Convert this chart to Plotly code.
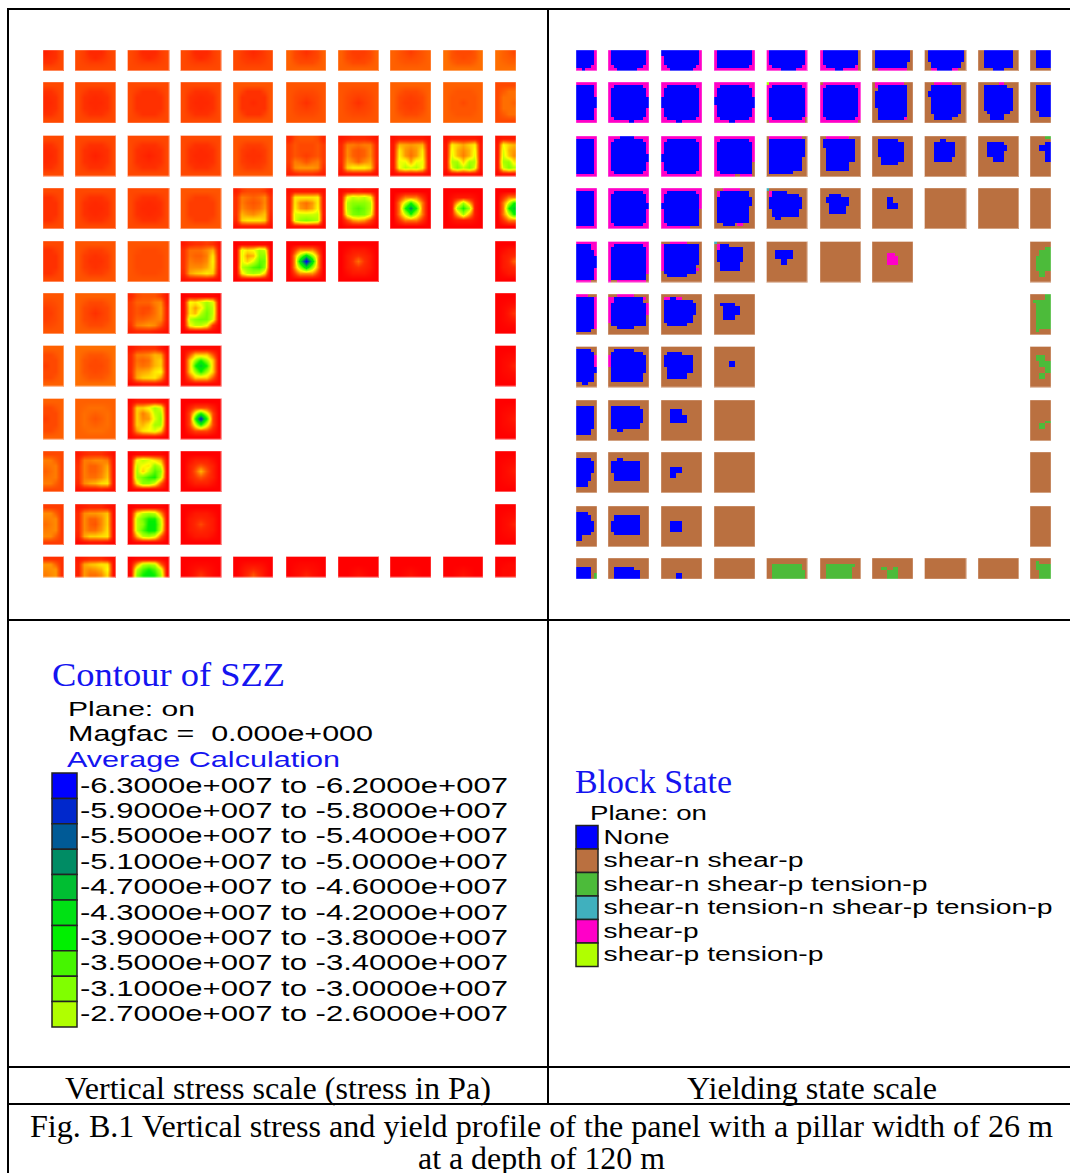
import json
import plotly.graph_objects as go

# ---------- DATA ----------
# Vertical stress magnitude (MPa compression), per pillar: (rim, ring 1, ring 2, core)
STRESS_RINGS = [
 [(8,6,5,4),(8,7,5,5),(8,7,5,5),(8,7,5,5),(8,7,6,5),(10,8,7,6),(10,8,7,7),(10,9,8,7),(11,9,8,8),(11,10,9,8)],
 [(8,6,5,5),(8,6,5,5),(8,6,6,6),(8,6,5,5),(9,6,6,5),(9,8,7,6),(9,8,7,6),(10,8,7,7),(10,9,9,8),(8,11,11,10)],
 [(8,6,5,5),(8,6,5,4),(8,6,5,4),(8,6,5,5),(9,7,6,6),'m','m','m','m','m'],
 [(8,6,6,6),(8,6,5,5),(8,6,5,5),(9,7,7,7),'m','m','m',(0,12,38,52),(0,3,28,38),(0,12,38,46)],
 [(8,6,6,6),(9,7,6,6),(9,8,8,8),'m','m',(0,14,44,63),(0,3,6,11),None,None,(0,3,5,10)],
 [(9,8,7,7),(10,8,7,6),'m','m',None,None,None,None,None,(0,1,3,6)],
 [(10,8,8,7),(11,9,8,8),'m',(1,18,38,46),None,None,None,None,None,(0,1,2,4)],
 [(10,8,8,7),(10,11,10,9),'m',(0,8,38,60),None,None,None,None,None,(0,1,2,3)],
 [(8,12,11,10),'m','m',(0,4,9,16),None,None,None,None,None,(0,1,2,3)],
 [(7,13,12,11),'m','m',(0,3,5,8),None,None,None,None,None,(0,1,2,4)],
 [(6,14,13,12),'m','m',(0,1,3,6),(0,2,5,9),(0,1,2,4),(0,0,1,2),(0,0,1,2),(0,0,1,2),(0,1,1,2)],
]
# Pillars with an uneven stress pattern, as read cell by cell (row, column)
STRESS_MATRICES = {
 (2,5): [[5,8,9,9,9,8,5],[7,9,8,8,8,9,7],[7,9,8,8,8,9,7],[7,9,8,7,8,9,7],[7,12,11,9,11,12,7],[6,13,14,14,14,13,6],[4,5,6,6,6,5,4]],
 (2,6): [[3,4,5,5,5,4,3],[5,12,12,11,12,12,5],[5,13,10,9,10,13,5],[5,13,10,9,10,13,5],[5,15,13,10,13,15,5],[4,18,21,21,21,18,4],[2,3,3,3,3,3,2]],
 (2,7): [[2,3,3,3,3,3,2],[3,16,15,14,15,16,3],[3,20,14,12,14,20,3],[3,21,14,11,14,21,3],[3,23,23,15,23,23,3],[3,22,27,25,27,22,3],[1,2,2,2,2,2,1]],
 (2,8): [[2,3,3,3,3,3,2],[3,21,18,15,18,21,3],[3,23,16,13,16,23,3],[3,24,16,12,16,24,3],[3,27,28,18,28,27,3],[3,24,31,26,31,24,3],[1,2,2,2,2,2,1]],
 (2,9): [[2,3,3,3],[3,22,18,16],[3,24,16,14],[3,25,17,13],[3,28,29,20],[3,25,31,27],[1,2,2,2]],
 (3,4): [[4,7,8,8,8,7,4],[6,12,11,10,11,13,6],[6,12,10,9,10,13,6],[6,13,11,10,11,14,6],[6,16,14,13,15,17,5],[5,18,20,20,20,18,4],[2,3,3,3,3,3,2]],
 (3,5): [[2,3,3,3,3,3,2],[3,20,20,20,20,21,3],[3,20,13,11,14,21,3],[3,21,14,12,15,22,3],[3,24,25,25,25,26,3],[2,24,29,31,29,27,2],[1,2,2,2,2,2,1]],
 (3,6): [[1,2,2,3,2,2,1],[2,22,26,24,26,22,2],[2,27,30,30,30,27,2],[2,27,32,34,32,27,2],[2,24,31,32,31,24,2],[1,8,14,16,14,8,1],[0,1,1,1,1,1,0]],
 (4,3): [[3,5,6,6,7,6,2],[6,11,11,11,13,16,3],[6,11,10,10,12,20,3],[6,12,11,11,13,21,3],[6,13,13,13,15,20,3],[5,15,17,18,20,18,2],[2,3,3,3,3,2,1]],
 (4,4): [[0,1,1,1,1,1,0],[1,24,20,22,28,26,1],[1,24,14,16,30,30,1],[1,24,18,24,33,32,1],[1,26,30,34,36,30,1],[1,20,26,28,26,18,0],[0,1,1,1,1,1,0]],
 (5,2): [[5,8,9,9,9,7,3],[7,10,10,10,12,13,3],[7,9,8,8,11,14,4],[7,9,8,9,11,14,4],[7,10,10,11,12,13,4],[6,12,13,14,13,9,3],[4,5,5,5,4,3,2]],
 (5,3): [[0,1,1,1,1,1,0],[1,22,20,24,28,24,1],[1,20,14,20,30,26,1],[1,20,16,26,32,26,1],[1,26,30,32,32,24,1],[1,22,26,26,22,6,0],[0,1,1,1,1,1,0]],
 (6,2): [[3,5,6,6,6,3,1],[5,12,12,13,16,15,2],[5,11,10,11,16,18,2],[5,12,11,12,16,18,2],[5,14,15,16,20,22,2],[4,15,18,19,20,14,2],[1,2,3,3,3,2,1]],
 (7,2): [[1,3,3,3,3,2,1],[2,18,18,22,28,24,1],[2,18,12,16,26,28,1],[2,18,13,14,24,30,1],[2,18,16,20,28,28,1],[2,14,20,22,24,18,1],[1,2,2,2,2,1,0]],
 (8,1): [[3,5,6,6,6,4,2],[5,12,12,13,13,12,3],[6,12,10,10,12,15,3],[6,12,10,10,12,16,3],[6,12,11,11,13,17,3],[5,13,15,16,19,20,3],[2,3,3,3,4,3,2]],
 (8,2): [[0,1,1,1,1,1,0],[1,22,26,24,20,16,1],[1,26,22,20,30,24,1],[1,28,18,26,34,30,1],[1,28,32,36,38,26,1],[1,20,30,30,24,10,0],[0,1,1,1,1,1,0]],
 (9,1): [[3,4,5,5,5,3,2],[5,13,14,14,15,17,2],[5,13,10,10,13,18,2],[5,13,10,9,13,18,2],[5,13,11,11,14,19,2],[4,15,18,18,19,20,2],[1,2,3,3,3,2,1]],
 (9,2): [[0,1,1,1,1,1,0],[1,20,26,28,26,14,1],[1,26,32,38,38,24,1],[1,26,30,40,40,26,1],[1,26,34,40,40,24,1],[1,16,26,28,24,10,0],[0,1,1,1,1,1,0]],
 (10,1): [[3,4,5,5,5,3,2],[4,15,17,18,20,20,2],[4,14,13,14,16,22,2],[4,14,11,11,13,19,2]],
 (10,2): [[0,1,1,1,1,1,0],[1,14,26,28,26,10,1],[1,26,34,38,34,24,1],[1,30,38,42,38,28,1]],
}

CONTOUR_LABELS = ["-6.3000e+007 to -6.2000e+007","-5.9000e+007 to -5.8000e+007","-5.5000e+007 to -5.4000e+007",
                  "-5.1000e+007 to -5.0000e+007","-4.7000e+007 to -4.6000e+007","-4.3000e+007 to -4.2000e+007",
                  "-3.9000e+007 to -3.8000e+007","-3.5000e+007 to -3.4000e+007","-3.1000e+007 to -3.0000e+007",
                  "-2.7000e+007 to -2.6000e+007"]
CONTOUR_COLORS = ["#0000FF","#0028CC","#005A96","#008C64","#00BE32","#00E114","#00F000","#46F500","#80FF00","#B0FF00"]
STRESS_STOPS = [(0,"#FF0000"),(2,"#FF1000"),(6,"#FF3000"),(10,"#FF6000"),(14,"#FF9800"),(18,"#FFD200"),(22,"#FFFF00"),
                (27,"#B0FF00"),(31,"#80FF00"),(35,"#46F500"),(39,"#00F000"),(43,"#00E114"),(47,"#00BE32"),
                (51,"#008C64"),(55,"#005A96"),(59,"#0028CC"),(63,"#0000FF")]

STATE_LABELS = ["None","shear-n shear-p","shear-n shear-p tension-p","shear-n tension-n shear-p tension-p","shear-p","shear-p tension-p"]
STATE_WIDTHS = [66,200,324,449,95,220]
STATE_COLORS = ["#0000FF","#BA7040","#4CBB3A","#40B0BE","#FF00C8","#B0FF00"]
N, B, G, T, M, L = 0, 1, 2, 3, 4, 5

# Yield state per pillar: (row, column) -> background state, then patches (state, zone x0, y0, x1, y1)
NOTCH = [(M,1,1,2,2),(M,12,1,13,2),(M,1,12,2,13),(M,12,12,13,13)]
STATE_PILLARS = {
 (0,0):(M,[(N,0,0,6,5),(N,0,5,5,6),(N,2,6,3,7)]),
 (0,1):(M,[(N,1,0,13,5),(N,2,5,12,6),(N,3,6,10,7)]),
 (0,2):(M,[(N,0,0,13,2),(N,1,2,13,5),(N,2,5,12,6),(N,3,6,11,7)]),
 (0,3):(M,[(N,1,0,13,5),(N,1,5,12,6)]),
 (0,4):(M,[(N,1,0,13,5),(N,2,5,12,6),(N,5,6,10,7)]),
 (0,5):(M,[(B,13,0,14,7),(N,1,0,13,5),(N,2,5,12,6),(N,5,6,8,7)]),
 (0,6):(B,[(N,1,0,13,4),(N,1,4,12,6),(M,2,6,12,7)]),
 (0,7):(B,[(N,1,0,13,4),(N,2,4,12,6),(N,4,6,9,7),(M,2,6,4,7),(M,9,6,11,7)]),
 (0,8):(B,[(N,2,0,12,6),(N,5,6,9,7)]),
 (0,9):(B,[(N,2,0,7,6)]),
 (1,0):(M,[(N,0,1,6,13),(N,6,5,7,9)]),
 (1,1):(M,[(N,1,1,13,13),(N,13,5,14,9),(N,7,13,9,14)]+NOTCH),
 (1,2):(M,[(N,1,1,13,13),(N,0,5,1,9),(N,5,13,7,14)]+NOTCH),
 (1,3):(M,[(N,1,1,13,13),(N,0,5,1,8),(N,13,5,14,9),(N,5,13,7,14)]+NOTCH),
 (1,4):(M,[(N,1,1,13,13),(L,0,0,1,1),(B,13,12,14,14),(B,0,13,1,14)]+NOTCH),
 (1,5):(M,[(N,1,1,13,13),(B,0,0,1,1),(B,13,13,14,14)]+NOTCH),
 (1,6):(B,[(M,1,0,11,1),(M,1,1,2,2),(M,11,12,12,13),(N,2,1,12,12),(N,2,12,11,13),(N,1,3,2,9)]),
 (1,7):(B,[(M,3,0,9,1),(N,2,1,12,11),(N,3,11,11,12),(N,3,12,9,13),(N,1,3,2,5)]),
 (1,8):(B,[(M,7,0,9,1),(N,2,1,10,2),(N,2,2,12,10),(N,3,10,11,11),(N,4,11,9,13)]),
 (1,9):(B,[(N,2,1,7,10),(N,3,10,7,12)]),
 (2,0):(M,[(N,0,1,6,13)]),
 (2,1):(M,[(N,1,1,13,13),(N,4,0,9,1),(N,13,6,14,9)]+NOTCH),
 (2,2):(M,[(N,1,1,13,13),(N,0,6,1,9)]+NOTCH),
 (2,3):(M,[(N,1,1,13,13),(B,13,9,14,14),(B,7,13,9,14)]+NOTCH[:3]),
 (2,4):(B,[(M,1,0,12,1),(N,1,1,13,7),(N,1,7,12,12),(N,1,12,9,13)]),
 (2,5):(B,[(M,2,0,10,1),(N,1,1,12,4),(N,2,4,12,9),(N,2,9,10,12)]),
 (2,6):(B,[(N,2,1,9,2),(N,2,2,11,7),(N,3,7,11,9),(N,3,9,9,10)]),
 (2,7):(B,[(N,5,1,7,2),(N,3,2,10,7),(N,3,7,9,9)]),
 (2,8):(B,[(N,3,2,9,7),(N,9,3,10,5),(N,5,7,9,9)]),
 (2,9):(B,[(G,5,0,7,1),(N,5,2,7,9),(N,3,3,5,5)]),
 (3,0):(M,[(N,0,1,6,13)]),
 (3,1):(M,[(N,1,1,13,13),(N,13,5,14,7)]+NOTCH),
 (3,2):(M,[(N,1,1,13,13),(N,0,5,1,7),(B,13,7,14,14),(B,10,13,14,14)]+NOTCH[:3]),
 (3,3):(B,[(M,3,0,9,1),(M,1,1,2,3),(M,8,12,10,13),(N,2,1,12,3),(N,1,3,12,12),(N,12,3,13,6),(N,3,12,7,13)]),
 (3,4):(B,[(T,0,0,1,1),(M,1,1,2,4),(N,2,1,7,2),(N,2,2,11,3),(N,1,3,12,7),(N,2,7,11,10),(N,3,10,5,11)]),
 (3,5):(B,[(N,3,2,7,3),(N,2,3,10,5),(N,3,5,10,6),(N,3,6,9,9)]),
 (3,6):(B,[(N,5,3,7,5),(N,5,5,9,7)]),
 (3,7):(B,[]),(3,8):(B,[]),(3,9):(B,[]),
 (4,0):(M,[(N,0,1,5,3),(N,0,3,6,13),(N,6,5,7,9),(B,5,13,7,14)]),
 (4,1):(M,[(N,1,1,13,13),(B,13,11,14,14),(B,1,13,3,14)]+NOTCH[:2]),
 (4,2):(B,[(M,3,0,9,1),(M,0,1,1,10),(M,12,9,13,10),(N,1,1,13,8),(N,1,8,12,11),(N,2,11,9,12)]),
 (4,3):(B,[(T,0,0,1,1),(M,1,1,2,4),(N,2,1,5,2),(N,2,2,10,3),(N,1,3,10,7),(N,2,7,9,10)]),
 (4,4):(B,[(N,3,3,9,6),(N,5,6,7,8)]),
 (4,5):(B,[]),
 (4,6):(B,[(M,5,4,8,5),(M,5,5,9,8)]),
 (4,9):(B,[(G,5,2,7,3),(G,3,3,7,5),(G,2,5,7,10),(G,3,10,5,12)]),
 (5,0):(B,[(M,0,0,4,1),(M,6,1,7,12),(N,0,1,6,12),(N,0,12,5,13)]),
 (5,1):(B,[(M,3,0,9,1),(M,1,1,2,3),(M,0,1,1,10),(M,12,1,13,2),(M,13,3,14,7),(N,2,1,12,3),(N,1,3,13,11),(N,3,11,9,12)]),
 (5,2):(B,[(M,1,1,3,2),(M,5,1,7,2),(N,3,1,5,2),(N,1,2,11,3),(N,1,3,12,7),(N,1,7,11,10),(N,2,10,9,11)]),
 (5,3):(B,[(N,2,3,7,4),(N,3,4,7,9),(N,7,4,9,7)]),
 (5,9):(B,[(G,5,0,7,2),(G,1,2,7,3),(G,2,3,7,12),(G,2,12,3,13)]),
 (6,0):(B,[(M,6,3,7,7),(N,0,1,5,2),(N,0,2,6,12),(N,6,7,7,9),(N,2,12,4,13)]),
 (6,1):(B,[(M,0,3,1,7),(N,2,1,9,2),(N,1,2,12,3),(N,1,3,13,9),(N,1,9,12,12)]),
 (6,2):(B,[(N,2,2,7,3),(N,1,3,11,7),(N,2,7,11,9),(N,2,9,9,11)]),
 (6,3):(B,[(N,5,5,7,7)]),
 (6,9):(B,[(G,2,3,5,5),(G,3,5,7,7),(G,5,7,7,9),(G,3,9,5,11)]),
 (7,0):(B,[(N,0,2,6,10),(N,0,10,5,12)]),
 (7,1):(B,[(N,1,2,11,3),(N,1,3,12,8),(N,1,8,11,10),(N,3,10,5,11)]),
 (7,2):(B,[(N,3,3,7,5),(N,3,5,9,8)]),
 (7,3):(B,[]),
 (7,9):(B,[(G,5,7,7,8),(G,3,8,5,10)]),
 (8,0):(B,[(N,0,2,5,3),(N,0,3,6,7),(N,0,7,5,10),(N,0,10,4,12)]),
 (8,1):(B,[(N,3,2,5,3),(N,1,3,11,7),(N,2,7,11,10)]),
 (8,2):(B,[(N,3,5,7,7),(N,3,7,5,9)]),
 (8,3):(B,[]),(8,9):(B,[]),
 (9,0):(B,[(N,0,2,4,3),(N,0,3,5,5),(N,0,5,6,9),(N,0,9,5,10),(N,0,10,2,12)]),
 (9,1):(B,[(N,2,3,11,5),(N,1,5,11,9),(N,2,9,11,10)]),
 (9,2):(B,[(N,3,5,7,9)]),
 (9,3):(B,[]),(9,9):(B,[]),
 (10,0):(B,[(G,6,5,7,7),(N,0,3,5,7)]),
 (10,1):(B,[(N,2,3,9,4),(N,2,4,11,7)]),
 (10,2):(B,[(N,5,5,7,7)]),
 (10,3):(B,[]),
 (10,4):(B,[(G,2,2,12,4),(G,2,4,13,7)]),
 (10,5):(B,[(G,2,2,12,3),(G,2,3,11,7)]),
 (10,6):(B,[(G,3,3,5,4),(G,7,3,9,4),(G,5,4,9,7)]),
 (10,7):(B,[]),(10,8):(B,[]),
 (10,9):(B,[(G,2,1,3,4),(G,3,2,7,7)]),
}

# ---------- LAYOUT GEOMETRY (pixels of the page) ----------
W, H = 1070, 1173
L_COLS = [(43,63.5),(75,115.5),(127.5,169),(180.5,221),(233,273),(286,326),(338,378.5),(390,431),(443,483),(495,516)]
L_ROWS = [(50,70.5),(82,123),(135.5,176),(188,228.5),(241,281.5),(293,333.5),(345.5,386),(398.5,439),(451,491.5),(504,544.5),(556.5,577)]
R_COLS = [(576,597),(608,649),(661,702),(714,755),(766.5,807),(820,860.5),(872,913),(924.5,966),(978,1018.5),(1030,1051)]
R_ROWS = [(50,70.5),(82,123),(136,176.5),(188,228.5),(241.5,282),(294,334.5),(346.5,387),(400,440.5),(452,492.5),(506,546.5),(558,579)]
SANS = "Liberation Sans"
SERIF = "Liberation Serif"

fig = go.Figure()
shapes = []

def pale_edge(x0, x1, y0, y1):
    shapes.append(dict(type="rect", x0=x0, x1=x1, y0=y0, y1=y1, xref="x", yref="y",
                       line=dict(color="rgba(255,255,255,0.35)", width=1)))

def stress_scale():
    return [[v / 63, c] for v, c in STRESS_STOPS]

def rings_to_matrix(t):
    rim, a, b, core = t
    m = [[rim] * 7 for _ in range(7)]
    for i in range(1, 6):
        for j in range(1, 6):
            m[i][j] = a
    for i in range(2, 5):
        for j in range(2, 5):
            m[i][j] = b
    m[3][3] = core
    for i, j in ((1, 1), (1, 5), (5, 1), (5, 5)):
        m[i][j] = (rim + a) / 2
    for i, j in ((2, 2), (2, 4), (4, 2), (4, 4)):
        m[i][j] = (a + b) / 2
    return m

for r, row in enumerate(STRESS_RINGS):
    for c, cell in enumerate(row):
        if cell is None:
            continue
        if cell == 'm':
            z = STRESS_MATRICES[(r, c)]
        else:
            z = rings_to_matrix(cell)
            if c == 0:
                z = [ln[3:] for ln in z]
            if c == 9:
                z = [ln[:4] for ln in z]
            if r == 0:
                z = z[3:]
            if r == 10:
                z = z[:4]
        x0, x1 = L_COLS[c]
        y0, y1 = L_ROWS[r]
        dx = (x1 - x0) / len(z[0])
        dy = (y1 - y0) / len(z)
        fig.add_trace(go.Heatmap(z=z, x0=x0 + dx / 2, dx=dx, y0=y0 + dy / 2, dy=dy, zmin=0, zmax=63,
                                 colorscale=stress_scale(), zsmooth="best", showscale=False, hoverinfo="skip"))
        pale_edge(x0, x1, y0, y1)

state_scale = []
for i, col in enumerate(STATE_COLORS):
    state_scale += [[i / 6, col], [(i + 1) / 6, col]]

for (r, c), (base, patches) in STATE_PILLARS.items():
    nx = 7 if c in (0, 9) else 14
    ny = 7 if r in (0, 10) else 14
    z = [[base] * nx for _ in range(ny)]
    for s, a, b, e, f in patches:
        for j in range(b, min(f, ny)):
            for i in range(a, min(e, nx)):
                z[j][i] = s
    x0, x1 = R_COLS[c]
    y0, y1 = R_ROWS[r]
    dx = (x1 - x0) / nx
    dy = (y1 - y0) / ny
    fig.add_trace(go.Heatmap(z=z, x0=x0 + dx / 2, dx=dx, y0=y0 + dy / 2, dy=dy, zmin=-0.5, zmax=5.5,
                             colorscale=state_scale, showscale=False, hoverinfo="skip"))
    pale_edge(x0, x1, y0, y1)

def line(x0, y0, x1, y1):
    shapes.append(dict(type="line", x0=x0, y0=y0, x1=x1, y1=y1, xref="x", yref="y", line=dict(color="black", width=2)))

line(8, 9, W, 9); line(8, 620, W, 620); line(8, 1067, W, 1067); line(8, 1104, W, 1104)
line(8, 8, 8, H); line(548, 9, 548, 1104)

def swatch(x0, x1, y0, y1, col):
    shapes.append(dict(type="rect", x0=x0, x1=x1, y0=y0, y1=y1, xref="x", yref="y", fillcolor=col,
                       line=dict(color="#222222", width=1.5)))

for i, col in enumerate(CONTOUR_COLORS):
    swatch(52, 77, 773 + 25.4 * i, 773 + 25.4 * (i + 1), col)
for i, col in enumerate(STATE_COLORS):
    swatch(576, 598, 825.5 + 23.5 * i, 825.5 + 23.5 * (i + 1), col)

# Every text is fitted to the horizontal span it has in the reference
spans = []
def text(x, y, s, width, size=22, color="black", family=SANS):
    fig.add_annotation(x=x, y=y, text=s, xref="x", yref="y", showarrow=False, xanchor="left", yanchor="middle",
                       font=dict(size=size, color=color, family=family), borderpad=0, borderwidth=0)
    spans.append([x, width])

text(52, 675, "Contour of SZZ", 233, 33, "#1414F0", SERIF)
text(68, 708, "Plane: on", 127, 21)
text(68, 733, "Magfac =  0.000e+000", 305, 22)
text(67, 759, "Average Calculation", 273, 22, "#1414F0")
for i, s in enumerate(CONTOUR_LABELS):
    text(80, 785 + 25.4 * i, s, 428, 22)
text(575, 782, "Block State", 157, 33, "#1414F0", SERIF)
text(590, 813, "Plane: on", 117, 20)
for i, s in enumerate(STATE_LABELS):
    text(603.5, 836.5 + 23.5 * i, s, STATE_WIDTHS[i], 20)

text(65, 1088, "Vertical stress scale (stress in Pa)", 426, 31, family=SERIF)
text(687, 1088, "Yielding state scale", 250, 31, family=SERIF)
text(30, 1126, "Fig. B.1 Vertical stress and yield profile of the panel with a pillar width of 26 m", 1023, 31, family=SERIF)
text(418, 1158, "at a depth of 120 m", 247, 31, family=SERIF)

fig.update_layout(width=W, height=H, autosize=False, margin=dict(l=0, r=0, t=0, b=0),
                  paper_bgcolor="white", plot_bgcolor="white", shapes=shapes, showlegend=False,
                  xaxis=dict(range=[0, W], visible=False, fixedrange=True),
                  yaxis=dict(range=[H, 0], visible=False, fixedrange=True))

post = """
document.body.style.margin='0';
document.documentElement.style.overflow='hidden';
var SPANS = %s;
function fitTexts(){
  document.querySelectorAll('.annotation-text').forEach(function(t, i){
    if(!SPANS[i]) return;
    t.setAttribute('text-anchor','start');
    t.setAttribute('textLength', SPANS[i][1]);
    t.setAttribute('lengthAdjust','spacingAndGlyphs');
    var r = t.getBoundingClientRect();
    var x = parseFloat(t.getAttribute('x') || 0);
    t.setAttribute('x', x + SPANS[i][0] - r.left);
  });
}
fitTexts();
setTimeout(fitTexts, 100);
""" % json.dumps(spans)
fig.write_html("out.html", config=dict(displayModeBar=False), post_script=post)
